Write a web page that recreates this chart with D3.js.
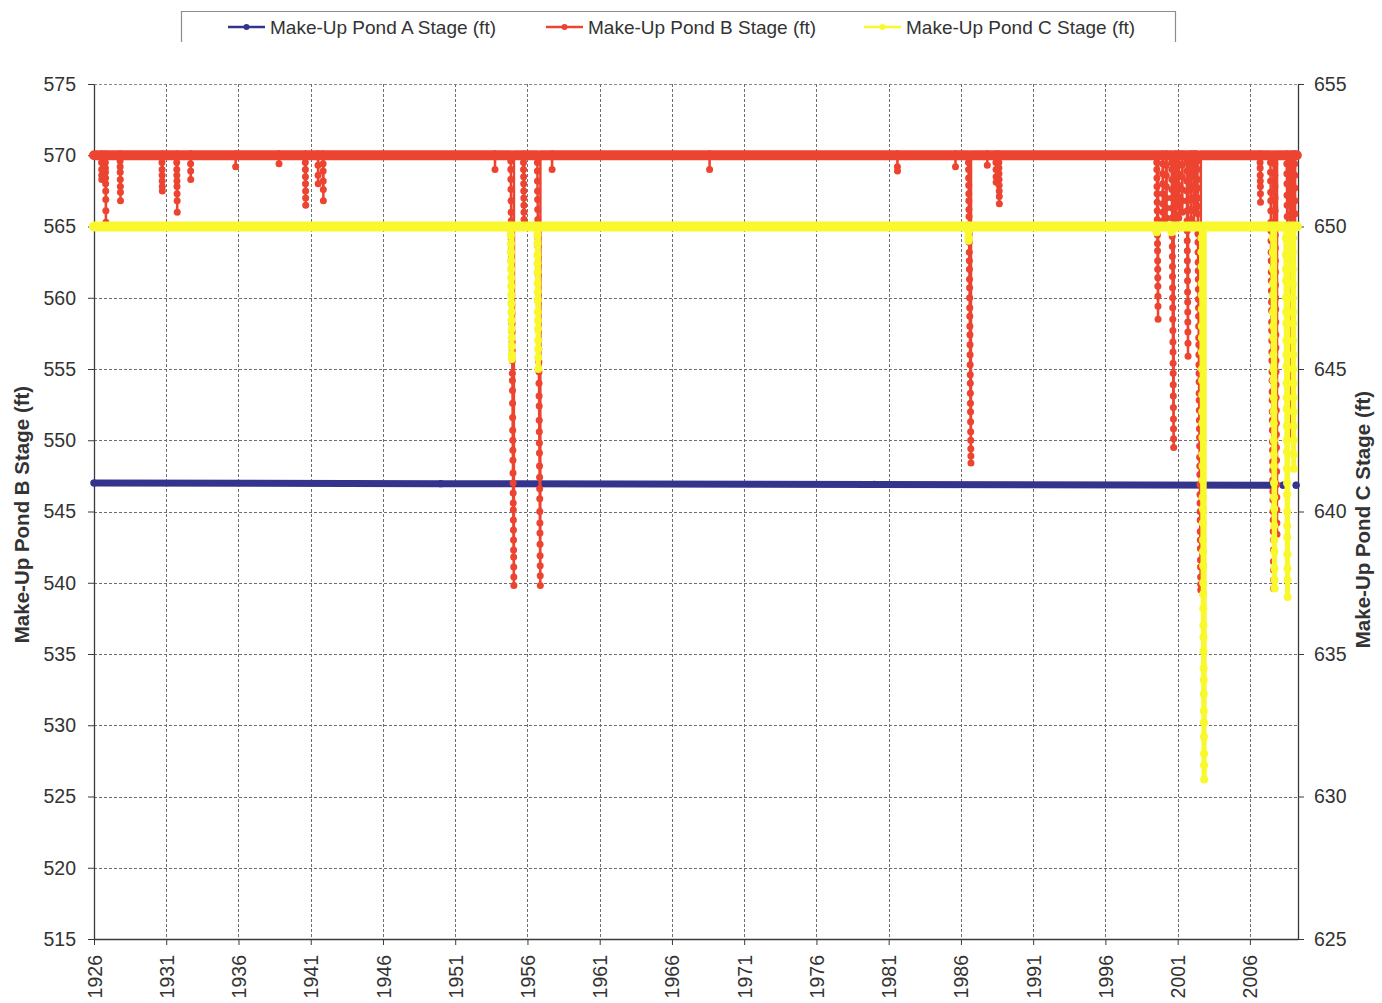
<!DOCTYPE html>
<html>
<head>
<meta charset="utf-8">
<script src="https://cdn.jsdelivr.net/npm/d3@7"></script>
<style>
  body { margin: 0; background: #fff; }
  svg { display: block; font-family: "Liberation Sans", Arial, sans-serif; }
</style>
</head>
<body>
<svg id="chart" width="1382" height="1003"></svg>
<script>
// ---- Axis ticks ----
const yearTicks = [1926, 1931, 1936, 1941, 1946, 1951, 1956, 1961, 1966, 1971, 1976, 1981, 1986, 1991, 1996, 2001, 2006];
const leftTicks = [515, 520, 525, 530, 535, 540, 545, 550, 555, 560, 565, 570, 575];
const rightTicks = [625, 630, 635, 640, 645, 650, 655];

// ---- Series ----
const seriesNames = ["Make-Up Pond A Stage (ft)", "Make-Up Pond B Stage (ft)", "Make-Up Pond C Stage (ft)"];
const seriesColors = ["#34348c", "#ec4430", "#f8f82c"];

const recordStart = 1926.0;
const recordEnd = 2009.25;
const readingStep = 0.005;   // years between successive stage readings during a drawdown

// Pond A stage (ft), plotted on the left axis; null = no record
const pondA = [
  [1926.0, 547.0], [1950.0, 546.95], [1980.0, 546.9], [2007.5, 546.85],
  null, [2008.3, 546.85], null, [2009.2, 546.85]
];

// Pond B: full-pool level and drawdown events [start year, stage readings (ft)]
const pondBFull = 570;
const pondBDrawdowns = [
  [1926.52, [569.5, 569.0, 568.6, 568.3]],
  [1926.78, [569.5, 569.1, 568.8, 568.4, 568.0, 567.5, 566.9, 566.1, 565.3]],
  [1927.80, [569.6, 569.2, 568.8, 568.3, 567.8, 567.4, 566.8]],
  [1930.70, [569.5, 569.0, 568.6, 568.2, 567.8, 567.5]],
  [1931.72, [569.5, 569.0, 568.6, 568.2, 567.8, 567.3, 566.8, 566.0]],
  [1932.68, [569.4, 568.9, 568.3]],
  [1935.80, [569.2]],
  [1938.80, [569.4]],
  [1940.62, [569.5, 569.0, 568.5, 568.0, 567.5, 567.0, 566.5]],
  [1941.50, [569.3, 568.6, 568.0]],
  [1941.85, [569.4, 568.9, 568.2, 567.6, 566.8]],
  [1953.75, [569.0]],
  [1954.84, [569.6, 569.0, 568.3, 567.6, 566.8, 566.0, 565.4, 564.7, 564.1, 563.4, 562.8, 562.1, 561.4, 560.9,
             560.2, 559.5, 558.9, 558.2, 557.6, 556.9, 556.3, 555.6, 554.7, 554.2, 553.5, 552.6, 551.6, 550.7,
             550.0, 549.3, 548.6, 547.7, 547.0, 546.3, 545.6, 545.1, 544.4, 543.7, 543.0, 542.3, 541.8, 541.1,
             540.4, 539.8]],
  [1955.72, [569.5, 569.0, 568.5, 568.0, 567.5, 567.0, 566.5, 566.0, 565.5]],
  [1956.68, [569.5, 568.9, 568.2, 567.5, 566.9, 566.2, 565.5, 564.9, 564.2, 563.6, 562.9, 562.3, 561.6, 561.0,
             560.3, 559.7, 559.0, 558.4, 557.7, 557.0, 556.4, 555.5, 554.8, 554.0, 553.1, 552.4, 551.4, 550.6,
             549.8, 549.1, 548.2, 547.4, 546.6, 545.9, 545.0, 544.2, 543.5, 542.7, 541.9, 541.2, 540.5, 539.8]],
  [1957.70, [569.0]],
  [1968.60, [569.0]],
  [1981.60, [569.2, 568.9]],
  [1985.62, [569.2]],
  [1986.52, [569.5, 569.0, 568.4, 567.9, 567.3, 566.8, 566.2, 565.7, 565.1, 564.5, 563.9, 563.2, 562.6, 562.0,
             561.3, 560.7, 560.0, 559.3, 558.7, 558.0, 557.4, 556.7, 556.0, 555.3, 554.6, 554.0, 553.3, 552.6,
             552.0, 551.3, 550.6, 550.0, 549.4, 548.9, 548.4]],
  [1987.82, [569.3]],
  [1988.42, [569.5, 569.0, 568.5, 568.1]],
  [1988.62, [569.5, 569.1, 568.7, 568.3, 567.9, 567.5, 567.1, 566.6]],
  [1999.55, [569.5, 569.0, 568.4, 567.8, 567.3, 566.7, 566.1, 565.5, 565.0, 564.4, 563.8, 563.3, 562.6, 562.0,
             561.4, 560.8, 560.1, 559.4, 558.5]],
  [1999.95, [569.4, 568.7, 568.0, 567.3, 566.6, 566.0, 565.4]],
  [2000.20, [569.3, 568.6, 567.8, 567.0, 566.3, 565.6, 565.0]],
  [2000.58, [569.5, 569.0, 568.3, 567.6, 567.0, 566.3, 565.6, 565.0, 564.3, 563.6, 562.9, 562.2, 561.5, 560.7,
             560.0, 559.3, 558.5, 557.7, 556.9, 556.2, 555.4, 554.7, 553.9, 553.1, 552.3, 551.5, 550.8, 550.1, 549.5]],
  [2000.85, [569.2, 568.4, 567.5, 566.7, 565.8, 565.1]],
  [2001.05, [569.4, 568.7, 567.9, 567.1, 566.4, 565.6]],
  [2001.30, [569.3, 568.5, 567.6, 566.8, 566.0]],
  [2001.62, [569.5, 568.9, 568.2, 567.5, 566.8, 566.1, 565.4, 564.7, 564.0, 563.3, 562.6, 561.9, 561.2, 560.4,
             559.7, 559.0, 558.3, 557.6, 556.8, 555.9]],
  [2001.90, [569.3, 568.6, 567.8, 567.0, 566.2, 565.5]],
  [2002.10, [569.4, 568.6, 567.7, 566.9, 566.1, 565.2]],
  [2002.24, [569.2, 568.4, 567.5, 566.6]],
  [2002.36, [569.6, 569.0, 568.3, 567.7, 567.0, 566.4, 565.9, 565.1, 564.5, 563.9, 563.2, 562.5, 561.9, 561.3,
             560.6, 559.9, 559.3, 558.7, 558.0, 557.2, 556.7, 556.0, 555.3, 554.7, 554.1, 553.3, 552.8, 552.1,
             551.4, 550.8, 550.2, 549.6, 548.8, 548.2, 547.6, 546.9, 546.2, 545.6, 545.0, 544.4, 543.6, 543.0,
             542.4, 541.6, 541.1, 540.4, 539.9, 539.5]],
  [2006.70, [569.5, 569.1, 568.6, 568.2, 567.8, 567.3, 566.7]],
  [2007.42, [569.5, 568.8, 568.2, 567.4, 566.8, 566.1, 565.3, 564.7, 564.0, 563.2, 562.6, 561.8, 561.2, 560.5,
             559.7, 559.1, 558.3, 557.7, 557.0, 556.2, 555.6, 554.8, 554.2, 553.4, 552.8, 552.0, 551.4, 550.7,
             549.9, 549.3, 548.5, 547.9, 547.2, 546.4, 545.8, 545.0, 544.4, 543.6, 543.0, 542.3, 541.5, 540.9,
             540.2, 539.6]],
  [2007.72, [569.4, 568.6, 567.8, 567.0, 566.1, 565.2, 564.4, 563.5, 562.6, 561.8, 560.9, 560.0, 559.2, 558.3,
             557.4, 556.5, 555.6, 554.8, 553.9, 553.0, 552.1, 551.2, 550.4, 549.5, 548.6, 547.8, 546.9, 546.0,
             545.1, 544.2, 543.4]],
  [2008.55, [569.4, 568.7, 568.0, 567.2, 566.5, 565.7, 565.0, 564.2]],
  [2008.75, [569.2, 568.3, 567.5, 566.6, 565.8, 564.9, 564.1, 563.2, 562.3, 561.5, 560.6, 559.8, 558.9, 558.0,
             557.2, 556.3, 555.5, 554.6, 553.8, 552.9, 552.0, 551.2, 550.3]],
  [2008.95, [569.3, 568.5, 567.6, 566.8, 565.9, 565.1, 564.2]],
  [2009.10, [569.4, 568.6, 567.7, 566.8, 565.9, 565.0]]
];

// Pond C: full-pool level and drawdown events [start year, stage readings (ft)], right axis
const pondCFull = 650;
const pondCDrawdowns = [
  [1954.84, [649.7, 649.4, 649.1, 648.8, 648.5, 648.2, 647.9, 647.6, 647.3, 647.0, 646.7, 646.4, 646.1,
             645.8, 645.5, 645.35]],
  [1956.68, [649.7, 649.4, 649.0, 648.7, 648.4, 648.0, 647.7, 647.4, 647.0, 646.7, 646.4, 646.0, 645.7,
             645.4, 645.0]],
  [1986.52, [649.8, 649.6, 649.5]],
  [1999.55, [649.8]],
  [2000.58, [649.8]],
  [2002.64, [649.6, 649.1, 648.6, 648.0, 647.6, 647.1, 646.5, 646.1, 645.6, 645.0, 644.6, 644.1, 643.5,
             643.1, 642.6, 642.0, 641.6, 641.1, 640.5, 640.1, 639.6, 639.0, 638.6, 638.1, 637.5, 637.1,
             636.6, 636.0, 635.6, 635.1, 634.5, 634.1, 633.6, 633.0, 632.6, 632.1, 631.5, 631.1, 630.6]],
  [2007.58, [649.6, 649.1, 648.5, 648.0, 647.6, 647.0, 646.5, 646.1, 645.5, 645.0, 644.6, 644.0, 643.5,
             643.1, 642.5, 642.0, 641.6, 641.0, 640.5, 640.1, 639.5, 639.0, 638.6, 638.0, 637.6, 637.3]],
  [2008.48, [649.6, 649.0, 648.5, 648.1, 647.5, 647.0, 646.6, 646.0, 645.5, 645.1, 644.5, 644.0, 643.6,
             643.0, 642.5, 642.1, 641.5, 641.0, 640.6, 640.0, 639.5, 639.1, 638.5, 638.0, 637.6, 637.0]],
  [2008.95, [649.6, 649.1, 648.5, 648.0, 647.5, 647.0, 646.6, 646.0, 645.5, 645.0, 644.5, 644.0, 643.5,
             643.0, 642.5, 642.0, 641.5]]
];

// ---- Layout ----
const svg = d3.select("#chart");
const plot = { left: 94, right: 1298, top: 84, bottom: 939 };

const x = d3.scaleLinear().domain([1926, 2009.33]).range([plot.left, plot.right]);
const yL = d3.scaleLinear().domain([515, 575]).range([plot.bottom, plot.top]);
const yR = d3.scaleLinear().domain([625, 655]).range([plot.bottom, plot.top]);

// Expand drawdown events into a continuous stage record
function buildRecord(full, drawdowns) {
  const pts = [[recordStart, full]];
  drawdowns.forEach(([t0, levels]) => {
    pts.push([t0, full]);
    levels.forEach((v, i) => pts.push([t0 + (i + 1) * readingStep, v]));
    pts.push([t0 + (levels.length + 1) * readingStep, full]);
  });
  pts.push([recordEnd, full]);
  return pts;
}
const pondB = buildRecord(pondBFull, pondBDrawdowns);
const pondC = buildRecord(pondCFull, pondCDrawdowns);

// ---- Gridlines ----
const grid = svg.append("g").attr("stroke", "#6f6f6f").attr("stroke-width", 1)
  .attr("stroke-dasharray", "3,2");
grid.selectAll("line.h").data(leftTicks.filter(d => d > 515)).join("line")
  .attr("x1", plot.left).attr("x2", plot.right)
  .attr("y1", d => Math.round(yL(d)) + 0.5).attr("y2", d => Math.round(yL(d)) + 0.5)
  .attr("stroke", d => d === 575 ? "#8a8a8a" : "#6f6f6f")
  .attr("stroke-dasharray", d => d === 575 ? null : "3,2");
grid.selectAll("line.v").data(yearTicks.filter(d => d > 1926)).join("line")
  .attr("y1", plot.top).attr("y2", plot.bottom)
  .attr("x1", d => Math.round(x(d)) + 0.5).attr("x2", d => Math.round(x(d)) + 0.5);

// ---- Axes ----
const axisStyle = g => {
  g.selectAll(".domain").attr("stroke", "#3a3a3a").attr("stroke-width", 1.3);
  g.selectAll(".tick line").attr("stroke", "#3a3a3a");
  g.selectAll("text").attr("fill", "#333").attr("font-size", 19.5);
};

svg.append("g").attr("transform", `translate(${plot.left},0)`)
  .call(d3.axisLeft(yL).tickValues(leftTicks).tickSize(6).tickSizeOuter(0).tickPadding(12))
  .call(axisStyle);

svg.append("g").attr("transform", `translate(${plot.right},0)`)
  .call(d3.axisRight(yR).tickValues(rightTicks).tickSize(6).tickSizeOuter(0).tickPadding(10))
  .call(axisStyle);

svg.append("g").attr("transform", `translate(0,${plot.bottom})`)
  .call(d3.axisBottom(x).tickValues(yearTicks).tickFormat(d3.format("d")).tickSize(6).tickSizeOuter(0))
  .call(axisStyle)
  .call(g => g.selectAll("text")
    .attr("x", 0).attr("y", 0).attr("dy", "0.36em")
    .attr("text-anchor", "end")
    .attr("transform", "translate(0,16) rotate(-90)"));

// Axis titles
svg.append("text")
  .attr("transform", `translate(29,${(plot.top + plot.bottom) / 2 + 3}) rotate(-90)`)
  .attr("text-anchor", "middle").attr("font-size", 20.5).attr("font-weight", "bold").attr("fill", "#333")
  .text("Make-Up Pond B Stage (ft)");
svg.append("text")
  .attr("transform", `translate(1370,${(plot.top + plot.bottom) / 2 + 8}) rotate(-90)`)
  .attr("text-anchor", "middle").attr("font-size", 20.5).attr("font-weight", "bold").attr("fill", "#333")
  .text("Make-Up Pond C Stage (ft)");

// ---- Series drawing ----
const marks = svg.append("g");

// Pond A
marks.append("path").datum(pondA)
  .attr("fill", "none").attr("stroke", seriesColors[0]).attr("stroke-width", 7)
  .attr("stroke-linecap", "round")
  .attr("d", d3.line().defined(d => d).x(d => x(d[0])).y(d => yL(d[1])));
marks.selectAll("circle.a").data(pondA.filter(d => d)).join("circle")
  .attr("cx", d => x(d[0])).attr("cy", d => yL(d[1])).attr("r", 3.6).attr("fill", seriesColors[0]);

function drawStage(record, full, y, color, opts) {
  const g = marks.append("g");
  // dense readings at full pool read as a solid band
  g.append("path").datum(record)
    .attr("fill", "none").attr("stroke", color).attr("stroke-width", opts.band)
    .attr("stroke-linecap", "round")
    .attr("d", d3.line().defined(d => d[1] === full).x(d => x(d[0])).y(d => y(d[1])));
  g.append("path").datum(record)
    .attr("fill", "none").attr("stroke", color).attr("stroke-width", opts.line)
    .attr("stroke-linejoin", "round")
    .attr("d", d3.line().x(d => x(d[0])).y(d => y(d[1])));
  g.selectAll("circle").data(record.filter(d => d[1] < full)).join("circle")
    .attr("cx", d => x(d[0])).attr("cy", d => y(d[1])).attr("r", opts.r).attr("fill", color);
}
drawStage(pondB, pondBFull, yL, seriesColors[1], { band: 10, line: 2.5, r: 3.5 });
drawStage(pondC, pondCFull, yR, seriesColors[2], { band: 10, line: 5, r: 4 });

// ---- Legend ----
const legend = svg.append("g");
legend.append("path").attr("d", "M181.5,42 V11.5 H1175.5 V42")
  .attr("fill", "none").attr("stroke", "#8c8c8c").attr("stroke-width", 1.2);
const legendX = [228, 546, 864];
seriesNames.forEach((name, i) => {
  const item = legend.append("g").attr("transform", `translate(${legendX[i]},27)`);
  item.append("line").attr("x1", 0).attr("x2", 37).attr("stroke", seriesColors[i]).attr("stroke-width", 2.5);
  item.append("circle").attr("cx", 18.5).attr("r", 3).attr("fill", seriesColors[i]);
  item.append("text").attr("x", 42).attr("dy", "0.35em").attr("font-size", 19).attr("fill", "#333").text(name);
});
</script>
</body>
</html>
